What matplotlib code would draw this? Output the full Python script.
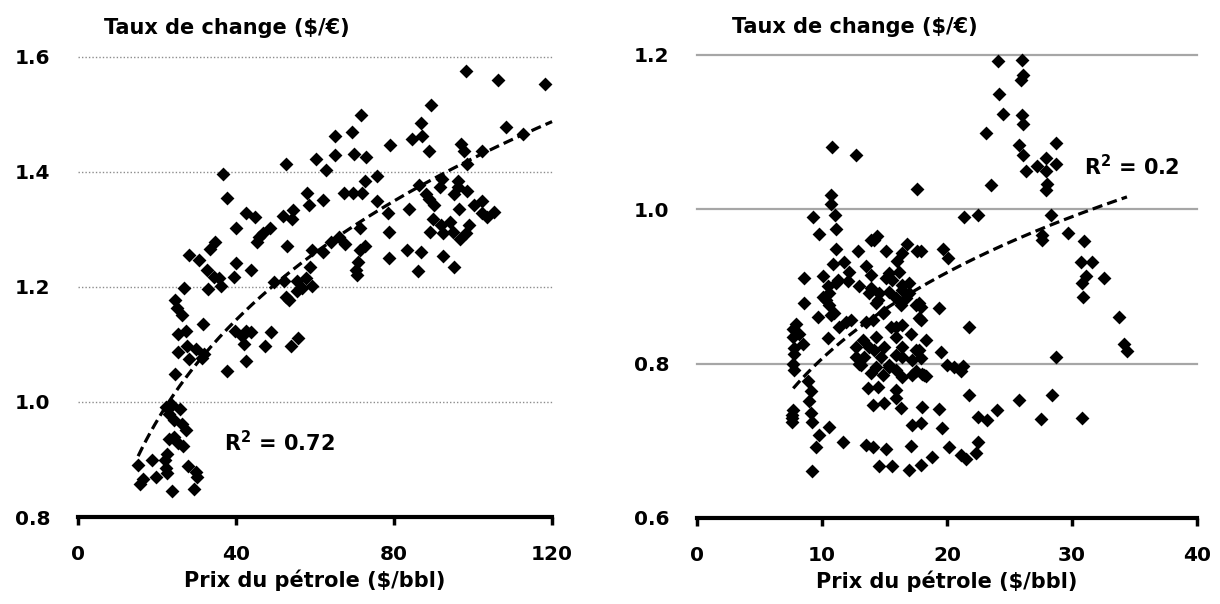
import numpy as np
import matplotlib.pyplot as plt

# Left panel: oil price ($/bbl) vs exchange rate ($/EUR)
left_x = [98.1, 106.4, 118.3, 89.3, 71.7, 86.9, 108.4, 69.4, 112.7, 65.0, 84.6, 87.2, 96.9, 79.0,
          88.8, 97.7, 102.2, 69.8, 72.9, 60.3, 65.0, 52.7, 62.8, 98.4, 36.6, 75.6, 72.6, 92.1,
          96.1, 86.2, 91.7, 96.1, 88.1, 95.2, 98.4, 57.9, 67.3, 69.5, 72.0, 37.7, 62.0, 75.6,
          88.8, 90.2, 100.3, 102.2, 58.5, 96.4, 83.9, 78.4, 102.2, 105.2, 103.6, 42.4, 44.7, 52.0,
          54.5, 54.2, 89.9, 91.8, 94.2, 98.9, 40.0, 48.7, 46.9, 78.7, 89.2, 98.3, 94.8, 92.5,
          71.4, 45.9, 96.6, 34.7, 45.4, 64.0, 66.1, 67.5, 33.5, 52.9, 72.6, 71.5, 59.3, 62.0,
          83.2, 86.7, 28.1, 30.6, 92.3, 78.7, 40.0, 43.8, 58.6, 70.8, 70.3, 70.5, 86.0, 95.2,
          32.6, 34.4, 35.6, 39.6, 36.3, 32.8, 26.9, 49.7, 52.2, 55.3, 57.6, 59.3, 55.3, 56.7,
          53.4, 52.7, 24.6, 25.0, 26.2, 31.6, 25.3, 27.2, 39.8, 42.5, 41.6, 43.7, 48.9, 55.8,
          53.9, 47.3, 42.0, 27.7, 25.3, 28.1, 29.8, 31.9, 31.4, 42.5, 37.8, 24.6, 22.2, 23.7,
          25.8, 22.9, 24.4, 26.2, 27.2, 22.9, 24.4, 25.3, 26.6, 22.5, 22.0, 18.6, 15.2, 22.2,
          27.8, 29.8, 19.7, 22.5, 16.5, 15.7, 30.0, 23.7, 29.3]
left_y = [1.575, 1.559, 1.553, 1.517, 1.499, 1.485, 1.478, 1.470, 1.465, 1.462, 1.457, 1.462, 1.449, 1.446,
          1.436, 1.437, 1.437, 1.431, 1.425, 1.423, 1.429, 1.413, 1.403, 1.414, 1.396, 1.393, 1.384, 1.387,
          1.384, 1.377, 1.374, 1.374, 1.361, 1.361, 1.367, 1.363, 1.363, 1.364, 1.363, 1.354, 1.351, 1.350,
          1.353, 1.343, 1.343, 1.350, 1.343, 1.336, 1.336, 1.328, 1.328, 1.331, 1.321, 1.328, 1.321, 1.323,
          1.333, 1.318, 1.318, 1.308, 1.313, 1.308, 1.302, 1.302, 1.294, 1.296, 1.296, 1.294, 1.296, 1.293,
          1.302, 1.286, 1.283, 1.278, 1.278, 1.278, 1.286, 1.274, 1.266, 1.271, 1.271, 1.264, 1.264, 1.260,
          1.264, 1.261, 1.256, 1.246, 1.254, 1.251, 1.241, 1.230, 1.235, 1.243, 1.230, 1.221, 1.228, 1.235,
          1.230, 1.218, 1.216, 1.217, 1.201, 1.197, 1.198, 1.209, 1.211, 1.211, 1.215, 1.201, 1.193, 1.198,
          1.178, 1.183, 1.178, 1.163, 1.151, 1.136, 1.118, 1.123, 1.124, 1.123, 1.115, 1.122, 1.122, 1.112,
          1.097, 1.097, 1.100, 1.098, 1.087, 1.075, 1.092, 1.083, 1.076, 1.072, 1.054, 1.049, 0.991, 0.995,
          0.987, 0.979, 0.969, 0.962, 0.952, 0.936, 0.939, 0.929, 0.924, 0.910, 0.899, 0.899, 0.890, 0.886,
          0.888, 0.879, 0.870, 0.876, 0.866, 0.857, 0.869, 0.845, 0.848]
# power trendline y = a * x^b, as drawn on the chart (coefficients, x range)
left_trend = (0.4714, 0.240, 15.2, 120.0)

# Right panel
right_x = [10.8, 12.7, 17.6, 10.7, 10.7, 9.3, 11.05, 9.8, 11.1, 14.2, 14.4, 16.8, 17.6, 15.1, 12.9,
           11.1, 16.4, 16.0, 10.9, 11.8, 12.2, 13.5, 10.1, 8.6, 16.2,
           24.1, 26.0, 26.1, 25.9, 24.2, 24.5, 26.0, 26.1, 23.1, 25.8, 28.7, 26.1, 27.9, 28.7, 27.2,
           26.3, 27.9, 28.0, 27.9, 23.5, 21.4, 22.5, 28.3, 29.7, 31.0, 27.6, 27.6, 19.7, 20.1, 17.9,
           30.7, 31.6, 31.1, 32.6,
           30.8, 30.9, 19.4, 17.9, 17.9, 21.8, 33.8, 18.3, 19.5, 34.2, 34.4, 17.9, 20.0, 21.3, 21.1,
           28.7, 18.3, 21.8, 28.4, 25.8, 18.0, 19.4, 24.0, 22.5, 23.2, 27.5, 30.8, 17.9, 19.6, 20.2,
           18.8, 21.1, 21.5, 22.5, 22.3, 17.9,
           7.8, 8.9, 9.1, 8.95, 7.7, 7.6, 9.1, 9.2, 10.6, 9.8, 9.5, 11.7, 13.5, 14.05, 15.1, 17.1,
           14.6, 15.6, 17.0, 9.2, 13.0, 13.9, 14.9, 15.4, 16.4, 17.2, 18.2, 13.65, 14.45, 15.9,
           14.05, 15.0, 15.9, 16.3, 17.2,
           13.9, 11.3, 12.1, 13.0, 13.9, 10.5, 10.1, 10.6, 8.6, 9.7, 10.7, 12.3, 11.4, 13.5, 7.9,
           8.2, 8.5, 7.8, 10.5, 12.7, 13.4, 13.1, 14.2,
           7.6, 7.6, 7.7, 7.7, 7.8, 7.7,
           15.1, 15.6, 13.9, 17.0, 16.4, 15.4, 14.6, 16.7, 15.9, 17.5, 16.3, 14.45, 15.0, 14.05, 17.8,
           15.5, 16.4, 17.1, 15.9, 14.3, 13.8, 15.0, 16.4, 17.8, 14.7, 15.9, 17.2, 14.3, 15.9, 17.5,
           20.6,
           12.7, 13.3, 13.8, 14.3, 14.85, 15.9, 16.4, 15.4, 18.0, 17.5, 17.8, 16.4, 17.0, 15.4, 11.1,
           10.6, 11.0, 11.9, 10.3]
right_y = [1.081, 1.071, 1.026, 1.019, 1.007, 0.990, 0.992, 0.968, 0.974, 0.960, 0.965, 0.955, 0.946, 0.946, 0.946,
           0.949, 0.944, 0.933, 0.929, 0.932, 0.919, 0.927, 0.914, 0.911, 0.919,
           1.192, 1.194, 1.174, 1.167, 1.150, 1.124, 1.122, 1.111, 1.099, 1.083, 1.086, 1.070, 1.067, 1.059, 1.056,
           1.050, 1.050, 1.033, 1.025, 1.031, 0.990, 0.992, 0.992, 0.969, 0.959, 0.967, 0.960, 0.948, 0.937, 0.946,
           0.932, 0.932, 0.913, 0.911,
           0.904, 0.887, 0.872, 0.874, 0.857, 0.847, 0.860, 0.831, 0.815, 0.826, 0.817, 0.807, 0.798, 0.797, 0.790,
           0.809, 0.784, 0.759, 0.759, 0.753, 0.744, 0.741, 0.740, 0.731, 0.727, 0.728, 0.730, 0.723, 0.717, 0.692,
           0.679, 0.682, 0.676, 0.698, 0.684, 0.669,
           0.792, 0.777, 0.764, 0.751, 0.740, 0.725, 0.736, 0.724, 0.718, 0.708, 0.692, 0.699, 0.695, 0.692, 0.690, 0.693,
           0.667, 0.667, 0.662, 0.661, 0.800, 0.788, 0.785, 0.798, 0.783, 0.785, 0.785, 0.768, 0.770, 0.766,
           0.746, 0.749, 0.755, 0.742, 0.721,
           0.960, 0.908, 0.907, 0.900, 0.898, 0.900, 0.887, 0.876, 0.878, 0.861, 0.863, 0.857, 0.848, 0.854, 0.852,
           0.839, 0.826, 0.813, 0.833, 0.822, 0.809, 0.798, 0.818,
           0.734, 0.730, 0.845, 0.835, 0.820, 0.800,
           0.911, 0.908, 0.915, 0.904, 0.896, 0.893, 0.891, 0.885, 0.885, 0.876, 0.876, 0.883, 0.867, 0.857, 0.859,
           0.848, 0.850, 0.839, 0.835, 0.835, 0.822, 0.822, 0.822, 0.818, 0.809, 0.811, 0.805, 0.796, 0.792, 0.790,
           0.796,
           0.809, 0.831, 0.891, 0.878, 0.865, 0.848, 0.809, 0.796, 0.787, 0.818, 0.878, 0.902, 0.891, 0.917, 0.904,
           0.891, 0.865, 0.854, 0.882]
right_trend = (0.5243, 0.187, 7.7, 34.4)

ylabel_txt = "Taux de change ($/€)"
xlabel_txt = "Prix du pétrole ($/bbl)"

plt.rcParams['font.family'] = 'DejaVu Sans'
plt.rcParams['font.weight'] = 'bold'
FS = 15

fig = plt.figure(figsize=(12.2, 6.04), dpi=100)
ax1 = fig.add_axes([0.064, 0.144, 0.3885, 0.762])
ax2 = fig.add_axes([0.5713, 0.1424, 0.4098, 0.7666])


def power_trend(ax, trend):
    a, b, x0, x1 = trend
    xs = np.linspace(x0, x1, 200)
    ax.plot(xs, a * xs ** b, color="black", lw=2.3,
            linestyle=(0, (3.2, 1.6)), zorder=3, clip_on=False)


def style(ax, xticks, yticks, grid_style):
    for s in ["top", "right", "left"]:
        ax.spines[s].set_visible(False)
    ax.spines["bottom"].set_linewidth(3)
    ax.set_xticks(xticks)
    ax.set_yticks(yticks)
    ax.set_xlim(xticks[0], xticks[-1])
    ax.set_ylim(yticks[0], yticks[-1])
    ax.tick_params(axis="x", length=6, width=2.5, pad=14, labelsize=14.5)
    ax.tick_params(axis="y", length=0, pad=20, labelsize=14.5)
    ax.yaxis.set_major_formatter(plt.FormatStrFormatter("%.1f"))
    for t in yticks[1:]:
        ax.axhline(t, color=grid_style[0], lw=grid_style[1], ls=grid_style[2],
                   zorder=0, clip_on=False)
    ax.set_xlabel(xlabel_txt, fontsize=FS, fontweight="bold", labelpad=4)


style(ax1, [0, 40, 80, 120], [0.8, 1.0, 1.2, 1.4, 1.6], ("#8c8c8c", 1.0, (0, (1, 1.5))))
ax1.scatter(left_x, left_y, marker="D", s=50, color="black", linewidths=0, zorder=2, clip_on=False)
power_trend(ax1, left_trend)
ax1.text(37.0, 0.93, "R$^{\\mathbf{2}}$ = 0.72", fontsize=FS, fontweight="bold", va="center")
ax1.text(0.055, 1.063, ylabel_txt, transform=ax1.transAxes, fontsize=FS,
         fontweight="bold", va="center")

style(ax2, [0, 10, 20, 30, 40], [0.6, 0.8, 1.0, 1.2], ("#a6a6a6", 1.6, "-"))
ax2.scatter(right_x, right_y, marker="D", s=50, color="black", linewidths=0, zorder=2, clip_on=False)
power_trend(ax2, right_trend)
ax2.text(31.0, 1.055, "R$^{\\mathbf{2}}$ = 0.2", fontsize=FS, fontweight="bold", va="center")
ax2.text(0.07, 1.06, ylabel_txt, transform=ax2.transAxes, fontsize=FS,
         fontweight="bold", va="center")

fig.savefig("out.png", dpi=100)
